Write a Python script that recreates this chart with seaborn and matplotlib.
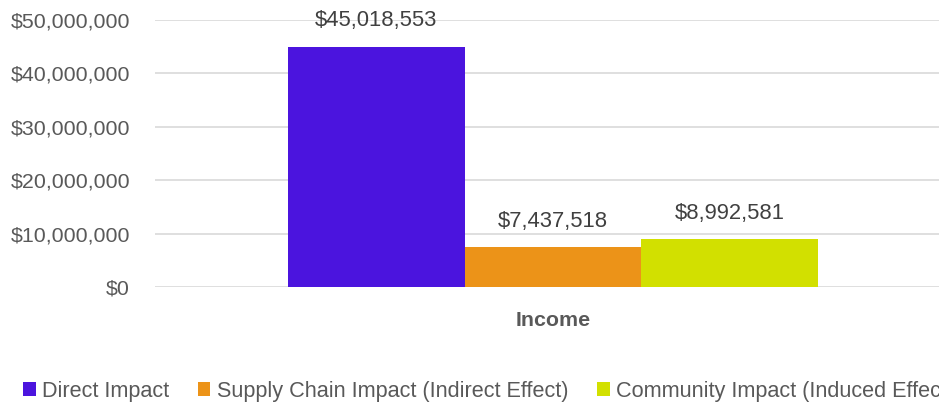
import matplotlib
matplotlib.use("Agg")
import matplotlib.pyplot as plt
import seaborn as sns
import pandas as pd
from matplotlib.patches import Patch
from matplotlib.ticker import FuncFormatter, MultipleLocator

categories = ["Income"]
series = ["Direct Impact", "Supply Chain Impact (Indirect Effect)", "Community Impact (Induced Effect)"]
values = [45018553, 7437518, 8992581]
colors = ["#4B14DE", "#EC9318", "#D2E000"]

df = pd.DataFrame({"Category": categories * len(series), "Series": series, "Value": values})

sns.set_theme(style="white")
plt.rcParams["font.family"] = ["Liberation Sans", "DejaVu Sans"]

fig = plt.figure(figsize=(9.39, 4.03), dpi=100)
ax = fig.add_axes([155 / 939, 116 / 403, 796 / 939, 267 / 403])

sns.barplot(data=df, x="Category", y="Value", hue="Series", hue_order=series,
            palette=colors, width=0.667, saturation=1, ax=ax, legend=False, gap=0,
            linewidth=0, edgecolor="none")

ax.set_ylim(0, 50000000)
ax.set_xlim(-0.5, 0.5)
ax.yaxis.set_major_locator(MultipleLocator(10000000))
ax.yaxis.set_major_formatter(FuncFormatter(lambda v, p: f"${v:,.0f}"))
ax.grid(axis="y", color="#d9d9d9", linewidth=1.2)
ax.set_axisbelow(True)
for s in ax.spines.values():
    s.set_visible(False)
ax.tick_params(axis="y", length=0, pad=18, labelsize=15.4, labelcolor="#595959")
ax.tick_params(axis="x", length=0, pad=17, labelsize=15.4, labelcolor="#595959")
for lbl in ax.get_xticklabels():
    lbl.set_fontweight("bold")
ax.set_xlabel("")
ax.set_ylabel("")

for cont in ax.containers:
    ax.bar_label(cont, labels=[f"${v:,.0f}" for v in cont.datavalues],
                 padding=11, fontsize=15.8, color="#404040")

handles = [Patch(facecolor=c, edgecolor="none") for c in colors]
fig.legend(handles, series, loc="center left", bbox_to_anchor=(23 / 939, 12 / 403),
           ncol=3, frameon=False, fontsize=15.6, labelcolor="#595959",
           handlelength=0.58, handleheight=0.58, handletextpad=0.32, columnspacing=1.3,
           borderaxespad=0, borderpad=0)

fig.savefig("out.png", dpi=100)
